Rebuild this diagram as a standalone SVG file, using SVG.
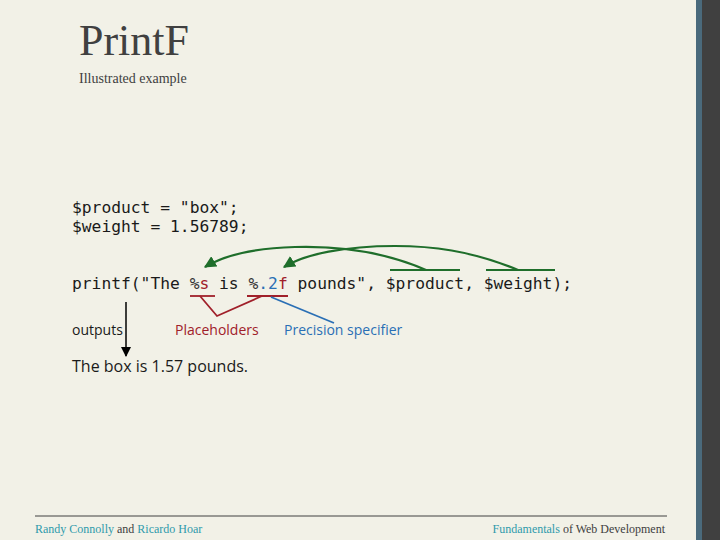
<svg xmlns="http://www.w3.org/2000/svg" width="720" height="540" viewBox="0 0 720 540">
<style>
.mono{font-family:"DejaVu Sans Mono","Liberation Mono",monospace;font-size:16.3px;fill:#1a1a1a}
.sans{font-family:"Open Sans","Noto Sans","DejaVu Sans",sans-serif;fill:#1a1a1a}
.serif{font-family:"Liberation Serif","Times New Roman",serif}
.red{fill:#a0202a}
.blue{fill:#2a6fb5}
.teal{fill:#2f9aab}
.g{fill:none;stroke:#1f6e2b;stroke-width:2.2}
</style>
<defs>
<marker id="ga" viewBox="0 0 10 10" refX="9" refY="5" markerWidth="5.5" markerHeight="5.5" orient="auto" markerUnits="strokeWidth">
<path d="M0,0 L10,5 L0,10 z" fill="#1f6e2b"/>
</marker>
<marker id="ka" viewBox="0 0 10 10" refX="9" refY="5" markerWidth="7" markerHeight="7" orient="auto" markerUnits="strokeWidth">
<path d="M0,0 L10,5 L0,10 z" fill="#000"/>
</marker>
</defs>
<rect width="720" height="540" fill="#f2f1e7"/>
<rect x="696" y="0" width="6" height="540" fill="#4a6a7c"/>
<rect x="702" y="0" width="18" height="540" fill="#404040"/>

<g id="title">
<text x="79" y="55" class="serif" font-size="44" fill="#404040">PrintF</text>
<text x="79" y="83" class="serif" font-size="14" fill="#404040">Illustrated example</text>
</g>

<g id="code">
<text x="72" y="213" class="mono">$product = "box";</text>
<text x="72" y="232" class="mono">$weight = 1.56789;</text>
<text x="72" y="289" class="mono">printf("The <tspan fill="#333">%</tspan><tspan class="red">s</tspan> is <tspan fill="#333">%</tspan><tspan class="blue">.2</tspan><tspan class="red">f</tspan> pounds", $product, $weight);</text>
</g>

<g id="labels">
<text x="72" y="335" class="sans" font-size="14">outputs</text>
<text x="175" y="335" class="sans red" font-size="14">Placeholders</text>
<text x="284" y="335" class="sans blue" font-size="14">Precision specifier</text>
<text x="72" y="372" class="sans" font-size="16">The box is 1.57 pounds.</text>
</g>

<g id="connectors">
<line x1="390" y1="270" x2="460" y2="270" stroke="#1f6e2b" stroke-width="1.8"/>
<line x1="486" y1="270" x2="555" y2="270" stroke="#1f6e2b" stroke-width="1.8"/>
<path class="g" d="M426,270 C380,250 330,246 295,247 C255,248 225,255 205,267" marker-end="url(#ga)"/>
<path class="g" d="M518,270 C470,250 430,246 395,246 C345,246 305,254 284,267" marker-end="url(#ga)"/>
<line x1="190" y1="296" x2="215" y2="296" stroke="#a0202a" stroke-width="1.8"/>
<line x1="247" y1="296" x2="288" y2="296" stroke="#a0202a" stroke-width="1.8"/>
<polyline points="200,296 217,316 262,296" fill="none" stroke="#a0202a" stroke-width="1.8"/>
<line x1="271" y1="297" x2="334" y2="323" stroke="#2a6fb5" stroke-width="1.8"/>
<line x1="126" y1="302" x2="126" y2="356" stroke="#000" stroke-width="1.5" marker-end="url(#ka)"/>
</g>

<g id="footer">
<line x1="35" y1="516" x2="667" y2="516" stroke="#404040" stroke-width="1"/>
<text x="35" y="533" class="serif" font-size="12" fill="#404040"><tspan class="teal">Randy Connolly</tspan> and <tspan class="teal">Ricardo Hoar</tspan></text>
<text x="665" y="533" class="serif" font-size="12" fill="#404040" text-anchor="end"><tspan class="teal">Fundamentals</tspan> of Web Development</text>
</g>
</svg>
